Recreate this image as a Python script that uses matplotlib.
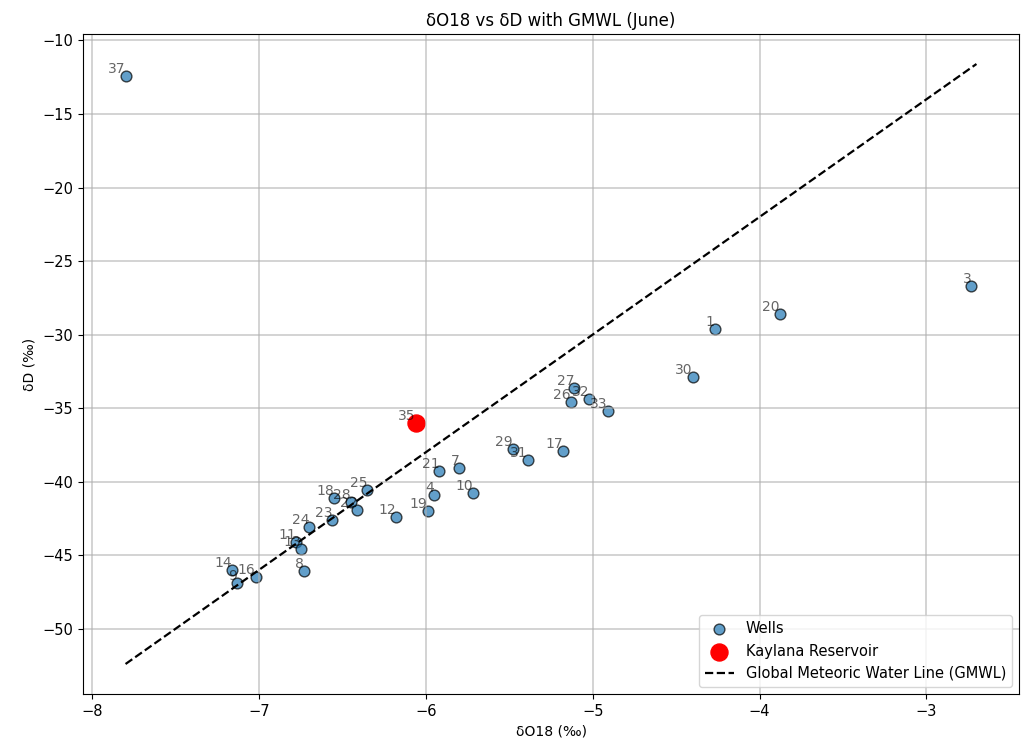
import numpy as np
import matplotlib.pyplot as plt

# Well data
well_ids = ['37', '3', '20', '1', '30', '27', '26', '32', '33', '29', '31', '17',
            '21', '7', '4', '10', '19', '12', '25', '18', '28', '22', '23', '24',
            '11', '13', '8', '14', '9', '16']
d18o = [-7.80, -2.73, -3.88, -4.27, -4.40, -5.11, -5.13, -5.02, -4.91, -5.48, -5.39, -5.18,
        -5.92, -5.80, -5.95, -5.72, -5.99, -6.18, -6.35, -6.55, -6.45, -6.41, -6.56, -6.70,
        -6.78, -6.75, -6.73, -7.16, -7.13, -7.02]
dd = [-12.45, -26.7, -28.6, -29.6, -32.9, -33.6, -34.6, -34.4, -35.2, -37.8, -38.5, -37.9,
      -39.25, -39.1, -40.9, -40.75, -42.0, -42.4, -40.6, -41.1, -41.4, -41.9, -42.6, -43.1,
      -44.1, -44.6, -46.1, -46.0, -46.9, -46.5]

# Kaylana reservoir
res_id = '35'
res_d18o = -6.06
res_dd = -36.0

# GMWL: dD = 8 * d18O + 10
gmwl_x = np.array([-7.8, -2.7])
gmwl_y = 8 * gmwl_x + 10

fig = plt.figure(figsize=(10.21, 7.51), dpi=100)
ax = fig.add_axes([83 / 1021, 1 - 694 / 751, (1019 - 83) / 1021, (694 - 34) / 751])

ax.scatter(d18o, dd, s=60, color='tab:blue', alpha=0.7, edgecolors='black', label='Wells')
ax.scatter(res_d18o, res_dd, s=150, color='red', label='Kaylana Reservoir')
ax.plot(gmwl_x, gmwl_y, 'k--', lw=1.6, label='Global Meteoric Water Line (GMWL)')

for i, lab in enumerate(well_ids):
    ax.text(d18o[i], dd[i], lab, fontsize=10, color='black', alpha=0.6,
            ha='right', va='bottom')
ax.text(res_d18o, res_dd, res_id, fontsize=10, color='black', alpha=0.6,
        ha='right', va='bottom')

ax.set_title('δO18 vs δD with GMWL (June)', fontsize=12)
ax.set_xlabel('δO18 (‰)')
ax.set_ylabel('δD (‰)')
ax.tick_params(labelsize=10.5)
ax.grid(True, color='#b0b0b0', alpha=0.7, lw=1.1)
ax.legend(loc='lower right', fontsize=10.5)

fig.savefig('out.png', dpi=100)
